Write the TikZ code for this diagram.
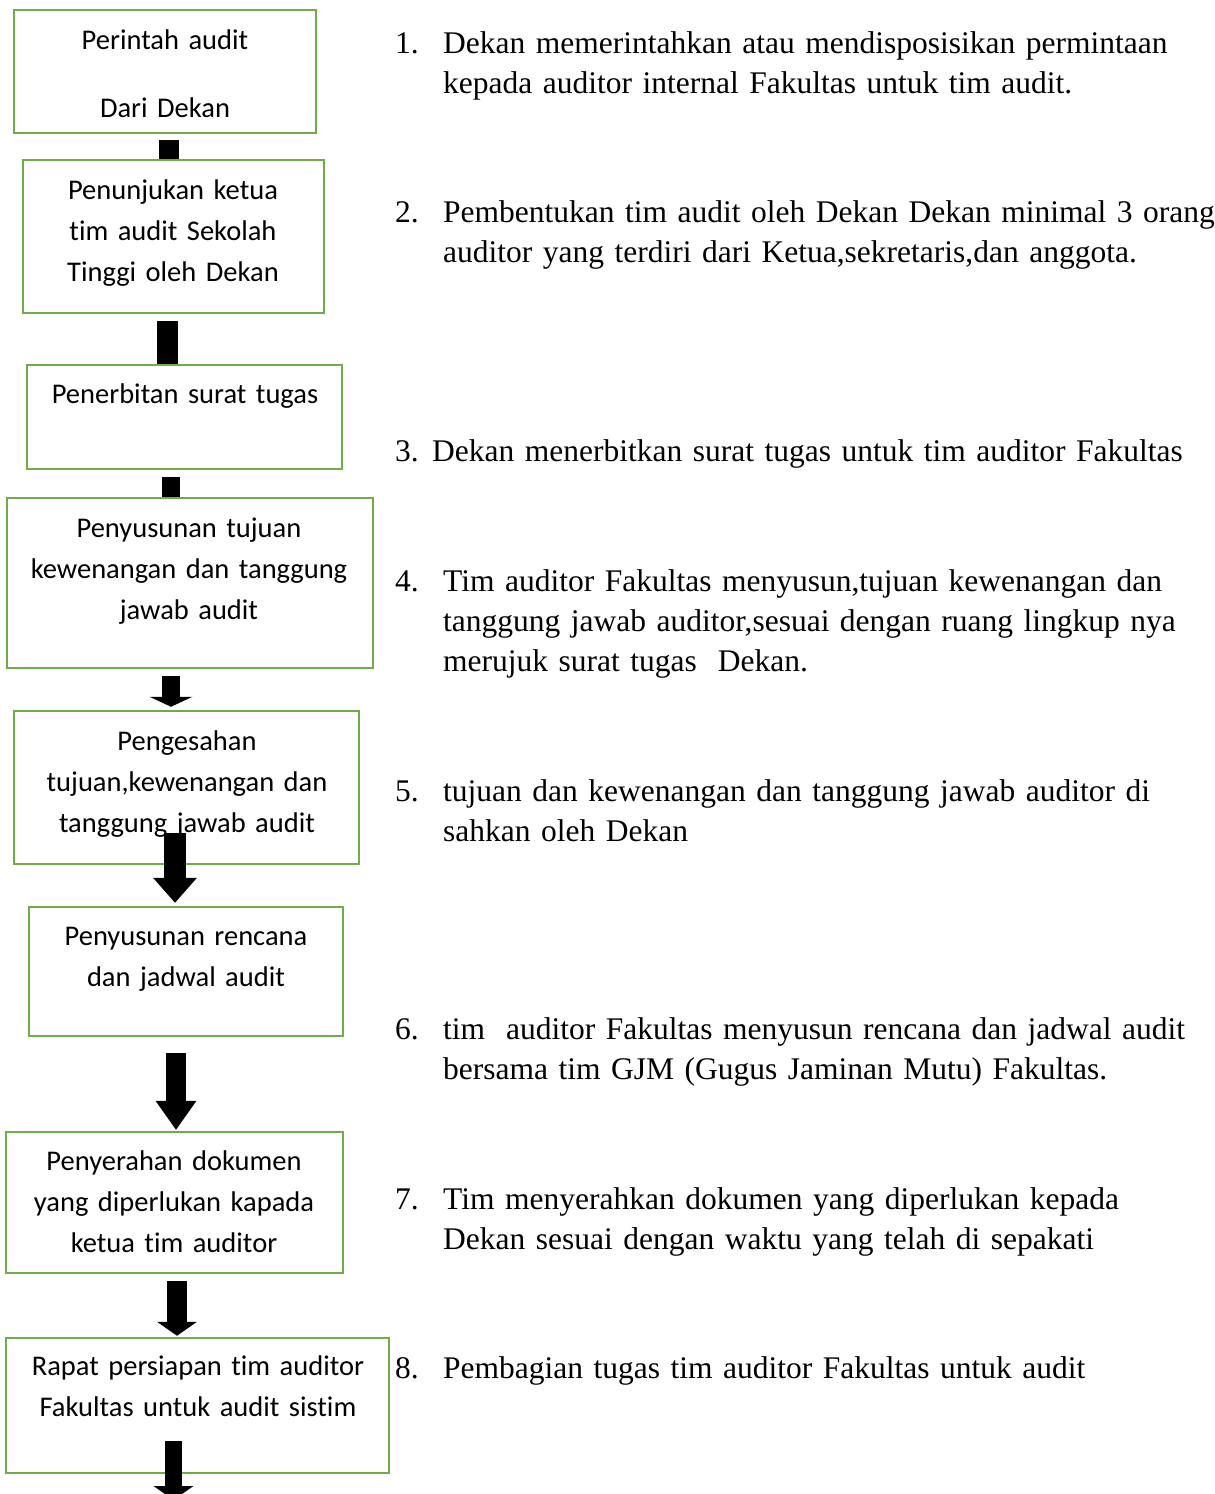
\documentclass[tikz,border=0pt]{standalone}
\usepackage{fontspec}
\setmainfont{Liberation Serif}[WordSpace=0.6]
\newfontfamily\boxfont{Carlito}[Ligatures=CommonOff]
\usetikzlibrary{arrows.meta}
\definecolor{boxgreen}{RGB}{112,173,71}

\begin{document}
\begin{tikzpicture}[x=1pt,y=-1pt,
box/.style 2 args={draw=boxgreen, line width=2.5pt, inner sep=0pt, minimum width=#1, minimum height=#2},
boxtext/.style={font=\boxfont\fontsize{28.5}{41}\selectfont, inner sep=0pt, anchor=base, align=center, text width=380pt},
num/.style={font=\fontsize{31.5}{40}\selectfont, inner sep=0pt, anchor=base west},
item/.style={font=\fontsize{31.5}{40}\selectfont, inner sep=0pt, anchor=base west, align=left, text width=800pt},
bar/.style={line width=#1},
down/.style n args={3}{line width=#1, -{Triangle[width=#2, length=#3, line width=0pt]}}]
\useasboundingbox (0,0) rectangle (1215,1494);

% boxes on the left
\node[box={302pt}{123pt}] (b1) at (165,71.5) {};
\node[box={301pt}{153pt}] (b2) at (173.5,236.5) {};
\node[box={315pt}{104pt}] (b3) at (184.5,417) {};
\node[box={366pt}{170pt}] (b4) at (190,583) {};
\node[box={345pt}{153pt}] (b5) at (186.5,787.5) {};
\node[box={314pt}{129pt}] (b6) at (186,971.5) {};
\node[box={337pt}{141pt}] (b7) at (174.5,1202.5) {};
\node[box={383pt}{135pt}] (b8) at (197.5,1405.5) {};

\node[boxtext] (t1) at (165,49) {Perintah audit\\[27pt]Dari Dekan};
\node[boxtext] (t2) at (173,199) {Penunjukan ketua\\tim audit Sekolah\\Tinggi oleh Dekan};
\node[boxtext] (t3) at (185,403) {Penerbitan surat tugas};
\node[boxtext] (t4) at (189,537) {Penyusunan tujuan\\kewenangan dan tanggung\\jawab audit};
\node[boxtext] (t5) at (187,750) {Pengesahan\\tujuan,kewenangan dan\\tanggung jawab audit};
\node[boxtext] (t6) at (186,945) {Penyusunan rencana\\dan jadwal audit};
\node[boxtext] (t7) at (174,1170) {Penyerahan dokumen\\yang diperlukan kapada\\ketua tim auditor};
\node[boxtext] (t8) at (198,1375) {Rapat persiapan tim auditor\\Fakultas untuk audit sistim};

% block arrows
\draw[bar=20pt] ([xshift=4pt,yshift=-6pt]b1.south) -- ([xshift=-4.5pt]b2.north);
\draw[bar=21pt] ([xshift=-6pt,yshift=-7pt]b2.south) -- ([xshift=-17pt]b3.north);
\draw[bar=18pt] ([xshift=-13.5pt,yshift=-7pt]b3.south) -- ([xshift=-19pt]b4.north);
\draw[down={18pt}{43pt}{10pt}] ([xshift=-19pt,yshift=-7pt]b4.south) -- ([xshift=-15.5pt,yshift=3pt]b5.north);
\draw[down={22pt}{44pt}{25pt}] ([xshift=-11.5pt,yshift=32pt]b5.south) -- ([xshift=-11pt,yshift=3pt]b6.north);
\draw[down={20pt}{41pt}{29pt}] ([xshift=-10pt,yshift=-16pt]b6.south) -- ([xshift=1.5pt,yshift=1pt]b7.north);
\draw[down={20pt}{40pt}{14pt}] ([xshift=2.5pt,yshift=-7pt]b7.south) -- ([xshift=-20.5pt,yshift=1pt]b8.north);
\coordinate (out) at (173.5,1500);
\draw[down={17pt}{40pt}{14pt}] ([xshift=-24pt,yshift=33pt]b8.south) -- (out);

% numbered steps on the right
\node[num] (n1) at (395,53) {1.};
\node[item] (r1) at (443,53) {Dekan memerintahkan atau mendisposisikan permintaan\\kepada auditor internal Fakultas untuk tim audit.};
\node[num] (n2) at (395,222) {2.};
\node[item] (r2) at (443,222) {Pembentukan tim audit oleh Dekan Dekan minimal 3 orang\\auditor yang terdiri dari Ketua,sekretaris,dan anggota.};
\node[num] (n3) at (395,461) {3.};
\node[item] (r3) at (432,461) {Dekan menerbitkan surat tugas untuk tim auditor Fakultas};
\node[num] (n4) at (395,591) {4.};
\node[item] (r4) at (443,591) {Tim auditor Fakultas menyusun,tujuan kewenangan dan\\tanggung jawab auditor,sesuai dengan ruang lingkup nya\\merujuk surat tugas\ \ Dekan.};
\node[num] (n5) at (395,801) {5.};
\node[item] (r5) at (443,801) {tujuan dan kewenangan dan tanggung jawab auditor di\\sahkan oleh Dekan};
\node[num] (n6) at (395,1039) {6.};
\node[item] (r6) at (443,1039) {tim\ \ auditor Fakultas menyusun rencana dan jadwal audit\\bersama tim GJM (Gugus Jaminan Mutu) Fakultas.};
\node[num] (n7) at (395,1209) {7.};
\node[item] (r7) at (443,1209) {Tim menyerahkan dokumen yang diperlukan kepada\\Dekan sesuai dengan waktu yang telah di sepakati};
\node[num] (n8) at (395,1378) {8.};
\node[item] (r8) at (443,1378) {Pembagian tugas tim auditor Fakultas untuk audit};
\end{tikzpicture}
\end{document}
